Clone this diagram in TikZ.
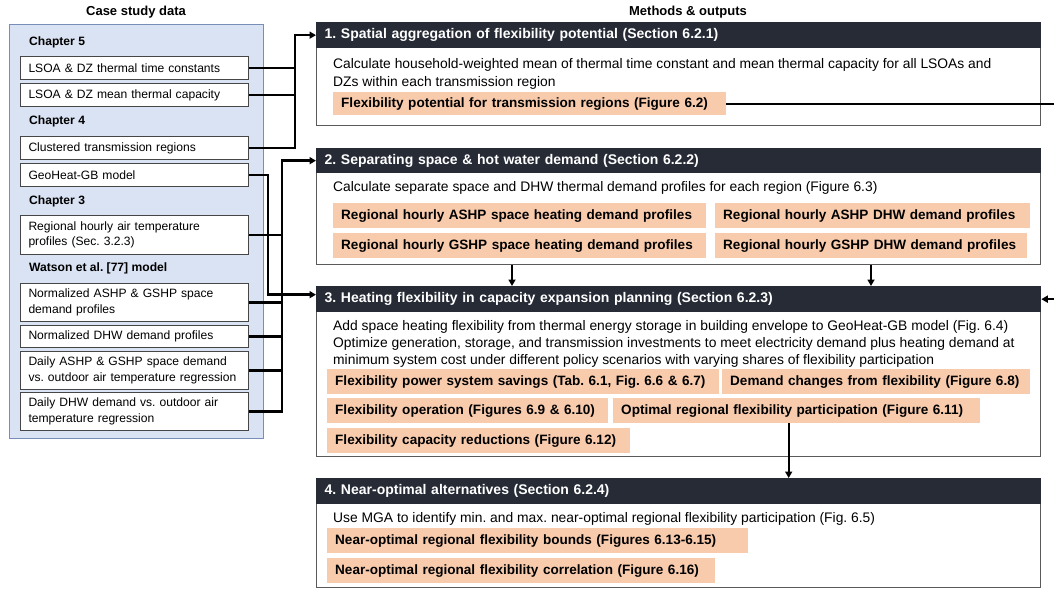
\documentclass[tikz,border=0pt]{standalone}
\usepackage{fontspec}
\setmainfont{Liberation Sans}
\usetikzlibrary{arrows.meta}
\definecolor{panelfill}{RGB}{218,227,243}
\definecolor{panelline}{RGB}{118,142,184}
\definecolor{hdr}{RGB}{38,43,54}
\definecolor{org}{RGB}{248,203,173}
\definecolor{frame}{RGB}{90,90,90}
\definecolor{dbline}{RGB}{70,70,70}
\frenchspacing
\begin{document}
\begin{tikzpicture}[x=1pt,y=-1pt,
  conn/.style={line width=2.4pt, draw=black},
  arr/.style={conn, -{Triangle[length=6.5pt,width=7pt]}},
  databox/.style={draw=dbline, line width=1pt, fill=white, anchor=north west, text width=212pt, inner xsep=8pt, inner ysep=0pt, align=left, font=\fontsize{12.1}{15.5}\selectfont},
  chap/.style={anchor=west, inner sep=0pt, font=\bfseries\fontsize{12.1}{14}\selectfont},
  frm/.style={draw=frame, line width=1.3pt, fill=white, anchor=north west, minimum width=724pt, inner sep=0pt},
  hdrbox/.style={fill=hdr, draw=hdr, line width=1.3pt, anchor=north west, minimum height=25pt, text width=708pt, inner xsep=8pt, inner ysep=0pt, align=left, text=white, font=\bfseries\fontsize{14}{16}\selectfont},
  body/.style={anchor=base west, inner sep=0pt, font=\fontsize{13.85}{16}\selectfont},
  outbox/.style={fill=org, anchor=north west, minimum height=25pt, inner xsep=8pt, inner ysep=0pt, align=left, font=\bfseries\fontsize{13.55}{16}\selectfont},
  ttl/.style={inner sep=0pt, font=\bfseries\fontsize{13}{15}\selectfont}
]
\useasboundingbox (0,0) rectangle (1054,590);

% titles
\node[ttl] (tl) at (136,12) {Case study data};
\node[ttl] (tr) at (688,12) {Methods \& outputs};

% left panel
\node[draw=panelline, fill=panelfill, line width=1.2pt, anchor=north west, minimum width=254pt, minimum height=414pt, inner sep=0pt] (panel) at (9,24) {};
\node[chap] (c5) at (29,42) {Chapter 5};
\node[databox, minimum height=23pt] (lsoa1) at (20,56) {LSOA \& DZ thermal time constants};
\node[databox, minimum height=23pt] (lsoa2) at (20,83) {LSOA \& DZ mean thermal capacity};
\node[chap] (c4) at (29,121) {Chapter 4};
\node[databox, minimum height=23pt] (clust) at (20,136) {Clustered transmission regions};
\node[databox, minimum height=23pt] (geo) at (20,163) {GeoHeat-GB model};
\node[chap] (c3) at (29,201) {Chapter 3};
\node[databox, minimum height=39pt] (air) at (20,215) {Regional hourly air temperature\\profiles (Sec. 3.2.3)};
\node[chap] (cw) at (29,268) {Watson et al. [77] model};
\node[databox, minimum height=38pt] (nashp) at (20,283) {Normalized ASHP \& GSHP space\\demand profiles};
\node[databox, minimum height=22pt] (ndhw) at (20,325) {Normalized DHW demand profiles};
\node[databox, minimum height=38pt] (dashp) at (20,351) {Daily ASHP \& GSHP space demand\\vs. outdoor air temperature regression};
\node[databox, minimum height=38pt] (ddhw) at (20,392) {Daily DHW demand vs. outdoor air\\temperature regression};

% box 1
\node[frm, minimum height=103pt] (b1) at (316,22) {};
\node[hdrbox] (h1) at (316,22) {1. Spatial aggregation of flexibility potential (Section 6.2.1)};
\node[body] (t1a) at (333,68) {Calculate household-weighted mean of thermal time constant and mean thermal capacity for all LSOAs and};
\node[body] (t1b) at (333,86) {DZs within each transmission region};
\node[outbox, text width=377pt, minimum height=23pt] (flexpot) at (333,92) {Flexibility potential for transmission regions (Figure 6.2)};

% box 2
\node[frm, minimum height=116pt] (b2) at (316,148) {};
\node[hdrbox, minimum height=24pt] (h2) at (316,148) {2. Separating space \& hot water demand (Section 6.2.2)};
\node[body] (t2a) at (333,191) {Calculate separate space and DHW thermal demand profiles for each region (Figure 6.3)};
\node[outbox, text width=357pt] (asp) at (333,203) {Regional hourly ASHP space heating demand profiles};
\node[outbox, text width=299pt] (adhw) at (715,203) {Regional hourly ASHP DHW demand profiles};
\node[outbox, text width=357pt] (gsp) at (333,233) {Regional hourly GSHP space heating demand profiles};
\node[outbox, text width=296pt] (gdhw) at (715,233) {Regional hourly GSHP DHW demand profiles};

% box 3
\node[frm, minimum height=170pt] (b3) at (316,286) {};
\node[hdrbox] (h3) at (316,286) {3. Heating flexibility in capacity expansion planning (Section 6.2.3)};
\node[body] (t3a) at (333,330) {Add space heating flexibility from thermal energy storage in building envelope to GeoHeat-GB model (Fig. 6.4)};
\node[body] (t3b) at (333,347) {Optimize generation, storage, and transmission investments to meet electricity demand plus heating demand at};
\node[body] (t3c) at (333,364) {minimum system cost under different policy scenarios with varying shares of flexibility participation};
\node[outbox, text width=376pt] (sav) at (327,369) {Flexibility power system savings (Tab. 6.1, Fig. 6.6 \& 6.7)};
\node[outbox, text width=292pt] (dem) at (722,369) {Demand changes from flexibility (Figure 6.8)};
\node[outbox, text width=265pt] (op) at (327,398) {Flexibility operation (Figures 6.9 \& 6.10)};
\node[outbox, text width=351pt] (opt) at (613,398) {Optimal regional flexibility participation (Figure 6.11)};
\node[outbox, text width=287pt] (cap) at (327,428) {Flexibility capacity reductions (Figure 6.12)};

% box 4
\node[frm, minimum height=109pt] (b4) at (316,478) {};
\node[hdrbox] (h4) at (316,478) {4. Near-optimal alternatives (Section 6.2.4)};
\node[body] (t4a) at (333,522) {Use MGA to identify min. and max. near-optimal regional flexibility participation (Fig. 6.5)};
\node[outbox, text width=405pt] (nb) at (327,528) {Near-optimal regional flexibility bounds (Figures 6.13-6.15)};
\node[outbox, text width=372pt] (nc) at (327,558) {Near-optimal regional flexibility correlation (Figure 6.16)};

% connectors: group 1
\path (h1.west) ++(-21,0) coordinate (j1);
\draw[conn] (lsoa1.east) -- (lsoa1.east -| j1);
\draw[conn] (lsoa2.east) -- (lsoa2.east -| j1);
\draw[arr] (clust.east) -| (j1) -- (h1.west);

% group 2
\path (h2.west) ++(-34,0) coordinate (j2);
\draw[conn] (air.east) -- (air.east -| j2);
\draw[conn] (nashp.east) -- (nashp.east -| j2);
\draw[conn] (ndhw.east) -- (ndhw.east -| j2);
\draw[conn] (dashp.east) -- (dashp.east -| j2);
\draw[arr] (ddhw.east) -| (j2) -- (h2.west);

% GeoHeat to box 3
\path (h3.west) ++(0,-4.5) coordinate (h3in);
\draw[arr] (geo.east) -- ++(19,0) |- (h3in);

% right edge loop
\coordinate (edge) at (1054,0);
\draw[conn] (flexpot.east) -- (flexpot.east -| edge);
\draw[arr] (h3.east -| edge) -- (h3.east);

% box 2 -> box 3
\draw[arr] ([xshift=196pt]b2.south west) -- ([xshift=196pt]b3.north west);
\draw[arr] ([xshift=555pt]b2.south west) -- ([xshift=555pt]b3.north west);

% box 3 -> box 4
\path ([xshift=-8pt]opt.south) coordinate (oa);
\draw[arr] (oa) -- (oa |- b4.north);
\end{tikzpicture}
\end{document}
